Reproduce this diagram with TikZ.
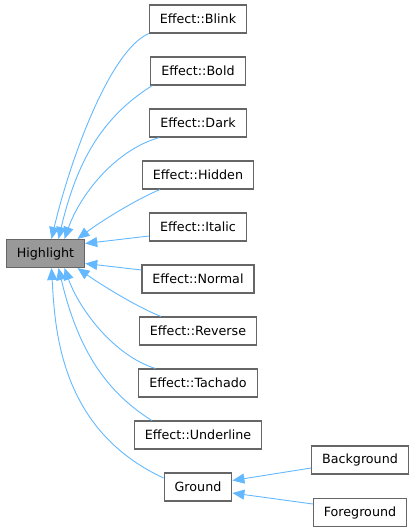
\documentclass[tikz,border=0pt]{standalone}
\usepackage{fontspec}
\setmainfont{DejaVu Sans}
\usetikzlibrary{arrows.meta}
\definecolor{edgeblue}{HTML}{63B8FF}
\definecolor{framegray}{HTML}{666666}
\definecolor{basegray}{HTML}{999999}
\tikzset{
	cls/.style={draw=framegray, line width=1.1pt, fill=white, minimum height=28pt,
		inner xsep=10.5pt, inner ysep=0pt, font=\fontsize{12.7}{15}\selectfont},
	basecls/.style={cls, fill=basegray},
	inh/.style={draw=edgeblue, line width=0.9pt, -{Triangle[length=12pt,width=10pt]}},
}
\begin{document}
\begin{tikzpicture}[x=1pt,y=-1pt]
	\useasboundingbox (0,0) rectangle (415,532);
	\node[basecls] (highlight) at (45.5,253.5) {Highlight};
	\node[cls] (blink) at (198,19) {Effect::Blink};
	\node[cls] (bold) at (198,71) {Effect::Bold};
	\node[cls] (dark) at (198,123) {Effect::Dark};
	\node[cls] (hidden) at (198,175) {Effect::Hidden};
	\node[cls] (italic) at (198,227) {Effect::Italic};
	\node[cls] (normal) at (198,279) {Effect::Normal};
	\node[cls] (reverse) at (198,331) {Effect::Reverse};
	\node[cls] (tachado) at (198,383) {Effect::Tachado};
	\node[cls] (underline) at (198,435) {Effect::Underline};
	\node[cls] (ground) at (198,487) {Ground};
	\node[cls] (background) at (360,460) {Background};
	\node[cls] (foreground) at (360,512.5) {Foreground};
	% upper effects
	\draw[inh] (blink.south west) .. controls (110,50) and (70,160) .. ([xshift=6pt]highlight.north);
	\draw[inh] ([xshift=2pt]bold.south west) .. controls (100,118) and (76,165) .. ([xshift=13pt]highlight.north);
	\draw[inh] ([xshift=10pt]dark.south west) .. controls (115,150) and (80,195) .. ([xshift=19pt]highlight.north);
	\draw[inh] ([xshift=18pt]hidden.south west) .. controls (135,200) and (100,222) .. ([xshift=32pt]highlight.north);
	\draw[inh] ([yshift=-9pt]italic.west) -- ([yshift=10pt]highlight.east);
	% lower effects
	\draw[inh] ([yshift=9pt]normal.west) -- ([yshift=-10pt]highlight.east);
	\draw[inh] ([xshift=22pt]reverse.north west) .. controls (135,306) and (100,284) .. ([xshift=32pt]highlight.south);
	\draw[inh] ([xshift=17pt]tachado.north west) .. controls (115,356) and (80,311) .. ([xshift=19pt]highlight.south);
	\draw[inh] ([xshift=18pt]underline.north west) .. controls (100,388) and (76,341) .. ([xshift=13pt]highlight.south);
	\draw[inh] ([yshift=9pt]ground.west) .. controls (60,430) and (55,330) .. ([xshift=6pt]highlight.south);
	% ground
	\draw[inh] ([yshift=-8pt]background.west) -- ([yshift=6.5pt]ground.east);
	\draw[inh] ([yshift=8.5pt]foreground.west) -- ([yshift=-6pt]ground.east);
\end{tikzpicture}
\end{document}
